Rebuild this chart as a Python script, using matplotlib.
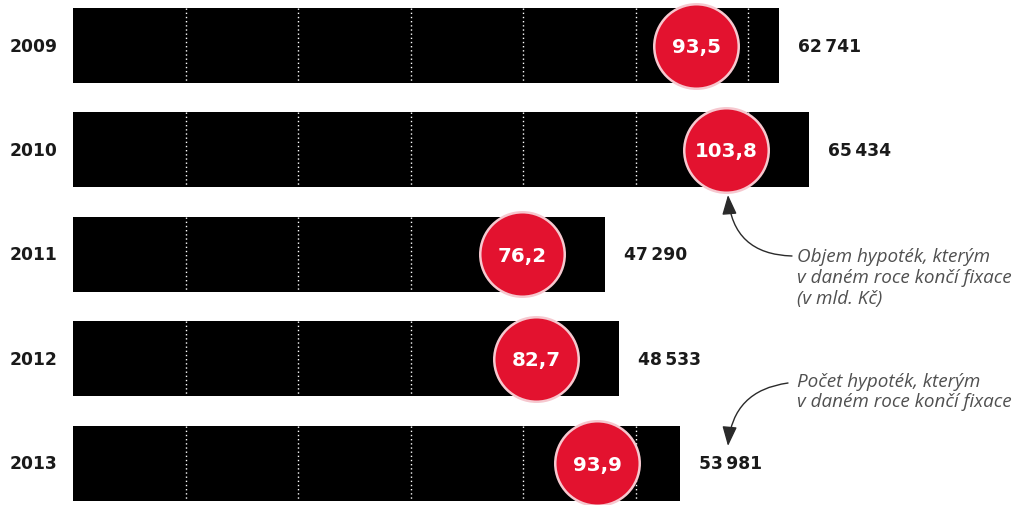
import matplotlib
matplotlib.use("Agg")
import matplotlib.pyplot as plt

years = ["2009", "2010", "2011", "2012", "2013"]
counts = [62741, 65434, 47290, 48533, 53981]
volumes = [93.5, 103.8, 76.2, 82.7, 93.9]
grid_ticks = [10000, 20000, 30000, 40000, 50000, 60000]

W, H = 1021, 506
fig = plt.figure(figsize=(W / 100, H / 100), dpi=100)
ax = fig.add_axes([0, 0, 1, 1])
ax.set_axis_off()

px_per_unit = 0.011253
x0_px = 73
ax.set_xlim(-x0_px / px_per_unit, (W - x0_px) / px_per_unit)
pitch = 104.4
top_c = 46.5
ax.set_ylim((H - top_c) / pitch, -top_c / pitch)

bar_h = 0.72
pos = list(range(len(years)))
ax.barh(pos, counts, height=bar_h, color="black", zorder=1)

# dotted white grid lines inside bars
for i, c in enumerate(counts):
    for g in grid_ticks:
        if g < c:
            ax.plot([g, g], [i - bar_h / 2, i + bar_h / 2], color="white",
                    lw=1.0, linestyle=(0, (1, 2)), zorder=2)

bold = ["DejaVu Sans"]

# red circles with volume
offset = 83 / px_per_unit
cx = [c - offset for c in counts]
ax.scatter(cx, pos, s=3700, color="#E3122F", edgecolors="#F6C8CF",
           linewidths=1.8, zorder=3)
for x, y, v in zip(cx, pos, volumes):
    ax.text(x, y + 0.01, f"{v:.1f}".replace(".", ","), color="white", ha="center",
            va="center", fontsize=14.3, fontweight="bold", family=bold, zorder=4)

# year labels
for y, yr in zip(pos, years):
    ax.text(-63 / px_per_unit, y, yr, ha="left", va="center", fontsize=12.3,
            fontweight="bold", color="#1a1a1a", family=bold)

# count labels
for y, c in zip(pos, counts):
    s = f"{c:,}".replace(",", "\u2009")
    ax.text(c + 19 / px_per_unit, y, s, ha="left", va="center", fontsize=12.3,
            fontweight="bold", color="#1a1a1a", family=bold)

def px(x, y):
    return (x / W, 1 - y / H)

ann_font = ["Open Sans", "DejaVu Sans"]
fig.text(797 / W, 1 - 278 / H, "Objem hypoték, kterým\nv daném roce končí fixace\n(v mld. Kč)",
         ha="left", va="center", fontsize=13.6, style="italic", color="#505050",
         family=ann_font, linespacing=1.2)
fig.text(797 / W, 1 - 392 / H, "Počet hypoték, kterým\nv daném roce končí fixace",
         ha="left", va="center", fontsize=13.6, style="italic", color="#505050",
         family=ann_font, linespacing=1.2)

ax.annotate("", xy=px(728, 196), xycoords="figure fraction",
            xytext=px(792, 257), textcoords="figure fraction",
            arrowprops=dict(arrowstyle="-|>,head_length=1.2,head_width=0.45",
                            connectionstyle="arc3,rad=-0.45", color="#2a2a2a",
                            lw=1.0, shrinkA=0, shrinkB=0))
ax.annotate("", xy=px(728, 447), xycoords="figure fraction",
            xytext=px(788, 384), textcoords="figure fraction",
            arrowprops=dict(arrowstyle="-|>,head_length=1.2,head_width=0.45",
                            connectionstyle="arc3,rad=0.4", color="#2a2a2a",
                            lw=1.0, shrinkA=0, shrinkB=0))

fig.savefig("out.png", dpi=100, facecolor="white")
